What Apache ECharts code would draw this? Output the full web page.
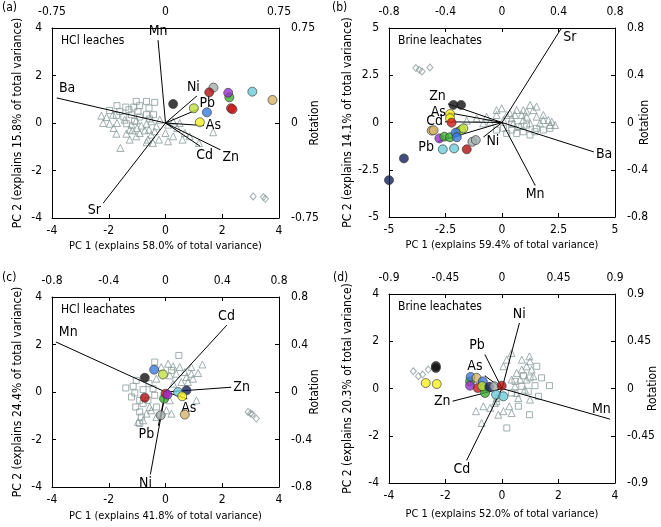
<!DOCTYPE html>
<html><head><meta charset="utf-8">
<script src="https://cdn.jsdelivr.net/npm/echarts@6/dist/echarts.min.js"></script>
<style>html,body{margin:0;padding:0;background:#fff}#c{width:661px;height:527px}</style>
</head><body><div id="c"></div>
<script>
// ---------- DATA ----------
// Panel (a) HCl leaches
const aCircles = [[0.27,0.80],[1.69,1.49],[1.54,1.29],[1.0,0.62],[1.46,0.45],[1.21,0.03],[2.25,1.08],[2.21,1.27],[2.31,0.62],[2.36,0.58],[3.06,1.32],[3.77,0.97]];
const aKinds = ['black','gray','darkred','lime','blue','yellow','green','purple','red','red','cyan','tan'];
const aTri = [[-2.26,0.31],[-2.08,0.25],[-1.85,0.35],[-1.71,0.0],[-1.44,0.14],[-1.20,-0.07],[-1.03,0.11],[-0.85,-0.11],[-0.67,-0.03],[-0.50,0.07],[-0.32,-0.14],[-0.20,0.14],[-1.73,-0.45],[-1.38,-0.45],[-1.17,-0.31],[-0.91,-0.42],[-0.73,-0.31],[-0.50,-0.49],[-0.62,-0.70],[-0.44,-0.84],[-1.59,-1.05],[-0.23,-0.70],[0.0,-0.42],[0.09,-0.77],[0.27,-0.56],[0.41,-0.21],[0.60,-0.70],[0.68,-0.42],[0.85,-0.56],[1.18,-0.84],[1.68,-0.39],[-2.20,0.0],[-1.97,-0.03],[-1.83,-0.21],[-1.26,-0.28],[-1.0,-0.21],[-0.58,-0.28],[-0.38,-0.35],[0.27,0.07],[0.50,0.0],[0.09,-0.07],[-1.03,-0.56],[-1.26,-0.70],[-0.67,-0.81]];
const aSq = [[-1.03,0.91],[-0.67,0.91],[-1.71,0.73],[-1.40,0.67],[-1.12,0.67],[-0.91,0.73],[-0.58,0.63],[-0.38,0.87],[-1.97,0.53],[-1.61,0.48],[-1.29,0.56],[-0.97,0.49],[-0.67,0.35],[-0.42,0.35],[-1.73,0.31],[-1.20,0.35],[-0.91,0.25],[-1.47,0.25],[-0.56,0.17],[-1.09,0.07],[-1.38,-0.03]];
const aDia = [[3.09,-3.09],[3.45,-3.12],[3.52,-3.19]];
const aLoadNames = ['Mn','Ba','Sr','Ni','Pb','As','Zn','Cd'];
const aLoadX = [-0.049,-0.716,-0.41,0.204,0.208,0.25,0.36,0.225];
const aLoadY = [0.65,0.197,-0.63,0.21,0.105,-0.02,-0.21,-0.18];

// Panel (b) Brine leachates
const bCircles = [[-5.0,-3.05],[-4.34,-1.90],[-2.15,0.93],[-1.81,0.93],[-2.30,0.45],[-2.30,0.22],[-2.23,-0.01],[-3.11,-0.43],[-3.03,-0.41],[-2.77,-0.84],[-2.55,-0.75],[-2.30,-0.78],[-1.93,-0.49],[-1.81,-0.40],[-1.71,-0.31],[-2.05,-0.54],[-2.0,-0.78],[-2.62,-1.42],[-2.12,-1.37],[-1.56,-1.42],[-1.31,-1.02],[-1.16,-0.93]];
const bKinds = ['navy','navy','black','black','yellow','yellow','red','tan','tan','purple','green','green','green','lime','lime','blue','blue','cyan','cyan','darkred','gray','gray'];
const bTri = [[-1.56,0.10],[-1.12,0.22],[-0.68,0.31],[-0.24,0.40],[-0.01,0.75],[0.35,0.49],[0.65,0.66],[0.87,0.40],[1.09,0.58],[1.39,0.66],[1.53,0.31],[1.83,0.40],[2.05,0.13],[2.35,-0.13],[1.24,0.93],[1.53,0.84],[0.43,0.22],[0.94,0.13],[1.24,-0.04],[1.68,-0.04],[2.12,-0.13],[0.06,0.13],[0.50,-0.04],[0.80,-0.19],[-0.53,0.04],[-0.83,-0.04],[1.09,0.31],[0.21,0.40],[0.58,0.40],[1.83,0.13],[2.20,0.04],[-0.24,0.66],[0.94,0.66]];
const bSq = [[0.06,-0.31],[0.43,-0.40],[0.72,-0.22],[0.94,-0.49],[1.24,-0.66],[1.53,-0.31],[1.83,-0.40],[0.65,-0.58],[0.21,-0.58],[-0.24,-0.40],[1.09,-0.13],[1.46,-0.49],[2.12,-0.31],[0.43,-0.08]];
const bDia = [[-3.81,2.88],[-3.66,2.79],[-3.54,2.70],[-3.19,2.91]];
const bLoadNames = ['Sr','Ba','Mn','Zn','As','Cd','Pb','Ni'];
const bLoadX = [0.416,0.647,0.234,-0.38,-0.38,-0.40,-0.45,-0.128];
const bLoadY = [0.79,-0.248,-0.53,0.157,0.083,0.006,-0.16,-0.12];

// Panel (c) HCl leachates
const cCircles = [[-0.40,0.94],[-0.09,0.74],[-0.73,0.60],[-0.73,-0.24],[-0.05,-0.28],[0.0,-0.07],[0.07,-0.11],[0.44,0.0],[0.74,0.07],[0.59,-0.18],[0.68,-0.95],[-0.17,-0.98]];
const cKinds = ['blue','lime','black','darkred','green','red','purple','cyan','navy','yellow','tan','gray'];
const cTri = [[0.09,1.19],[0.27,1.08],[0.50,1.05],[0.68,0.84],[0.91,0.77],[1.30,1.16],[1.15,0.80],[0.97,0.56],[0.74,0.63],[0.38,0.77],[0.15,0.70],[0.56,0.42],[0.79,0.42],[1.09,-0.35],[0.21,-0.91],[0.03,-0.77],[-0.32,-1.05],[-0.50,-0.77],[-0.67,-0.91],[-0.79,-1.19],[-0.97,-1.26],[0.15,-0.35],[-0.32,0.56],[-0.15,1.05],[0.91,1.05],[0.27,0.35],[-0.56,-0.63]];
const cSq = [[-0.38,1.26],[0.47,1.54],[-1.40,0.17],[-1.14,0.24],[-1.08,-0.04],[-1.2,-0.21],[-1.05,-0.63],[-0.91,-0.35],[-0.79,-0.49],[-0.91,-0.84],[-0.85,-1.05],[-0.91,-1.33],[-0.58,0.35],[-0.44,0.14],[-0.38,-0.14],[-0.32,-0.63],[-1.03,0.49],[-0.62,-0.35],[0.21,0.91],[-0.79,0.10]];
const cDia = [[2.91,-0.84],[3.0,-0.9],[3.06,-0.94],[3.20,-1.12]];
const cLoadNames = ['Mn','Cd','Zn','Ni','Pb','As'];
const cLoadX = [-0.77,0.43,0.46,-0.106,-0.05,0.15];
const cLoadY = [0.42,0.56,0.04,-0.69,-0.28,-0.056];

// Panel (d) Brine leachates
const dCircles = [[-2.34,0.95],[-2.34,0.87],[-2.70,0.23],[-2.31,0.19],[-1.13,0.30],[-1.11,0.49],[-0.90,0.45],[-0.68,0.30],[-1.13,0.12],[-0.86,0.02],[-0.63,0.02],[-0.60,-0.19],[-0.70,0.10],[-0.45,0.07],[-0.27,0.09],[-0.01,0.12],[-0.21,-0.26],[0.05,-0.33]];
const dKinds = ['black','black','yellow','yellow','green','blue','tan','blue','purple','red','green','green','lime','navy','gray','darkred','cyan','cyan'];
const dTri = [[0.97,1.36],[0.99,1.15],[0.87,0.94],[0.70,0.80],[0.52,0.66],[0.34,1.50],[0.17,1.22],[0.05,0.94],[1.05,0.80],[1.11,0.52],[0.87,0.38],[0.64,0.38],[0.34,0.38],[0.46,0.09],[0.81,-0.05],[0.99,-0.47],[0.58,-0.40],[0.26,-0.75],[0.05,-0.96],[-0.13,-1.11],[0.34,-1.04],[-0.42,-0.82],[-0.66,-0.75],[-0.92,-0.96],[-0.72,-1.46],[-0.25,-0.61],[-0.19,-0.40],[0.52,-0.19],[0.70,1.22],[-0.19,-0.54]];
const dSq = [[0.17,-1.67],[0.34,-0.19],[0.46,0.30],[0.76,0.54],[0.99,0.45],[1.23,0.94],[1.40,0.45],[1.68,0.12],[1.17,0.12],[0.93,-0.12],[0.70,0.09],[0.97,-1.11],[0.58,-0.75],[1.29,-0.33]];
const dDia = [[-3.14,0.73],[-2.96,0.52],[-2.61,0.80],[-2.81,0.59]];
const dLoadNames = ['Mn','Ni','Pb','As','Zn','Cd'];
const dLoadX = [0.855,0.138,-0.135,-0.135,-0.39,-0.28];
const dLoadY = [-0.29,0.62,0.32,0.12,-0.12,-0.68];

// ---------- STYLE ----------
const FONT = "'Liberation Sans Narrow','DejaVu Sans Condensed','Liberation Sans',sans-serif";
const palette = {black:'#111111',gray:'#a4adad',darkred:'#b01010',red:'#d01818',purple:'#9a30d0',green:'#40b030',lime:'#c0e040',blue:'#3b7bdc',yellow:'#f6f01e',cyan:'#6ccad8',tan:'#d6b468',navy:'#14205a'};
const hollow = '#8a9b9b';
const labelPlace = {
  a:{Mn:['top',[0,0]],Ba:['top',[10,0]],Sr:['left',[0,8]],Ni:['top',[-3,0]],Pb:['right',[0,-6]],As:['right',[0,0]],Zn:['right',[0,8]],Cd:['bottom',[5,0]]},
  b:{Sr:['right',[0,8]],Ba:['right',[0,3]],Mn:['bottom',[0,0]],Zn:['left',[0,-8]],As:['left',[0,0]],Cd:['left',[0,0]],Pb:['left',[-2,6]],Ni:['right',[0,5]]},
  c:{Mn:['top',[12,0]],Cd:['top',[0,0]],Zn:['right',[0,0]],Ni:['bottom',[-5,0]],Pb:['bottom',[-12,0]],As:['bottom',[2,0]]},
  d:{Mn:['top',[-8,0]],Ni:['top',[0,0]],Pb:['top',[-8,0]],As:['left',[0,-10]],Zn:['left',[0,0]],Cd:['bottom',[-5,0]]}
};

const panels = [
  {key:'a',tag:'(a)',title:'HCl leaches',grid:{left:52,top:28,width:227,height:190},pc:[-4,4,2],pcy:[-4,4,2],rot:[-0.75,0.75,0.75],
   xName:'PC 1 (explains 58.0% of total variance)',yName:'PC 2 (explains 15.8% of total variance)',xGap:23,yGap:28,rGap:30,
   circles:aCircles,kinds:aKinds,tri:aTri,sq:aSq,dia:aDia,ln:aLoadNames,lx:aLoadX,ly:aLoadY,tagPos:[2,2]},
  {key:'b',tag:'(b)',title:'Brine leachates',grid:{left:389,top:28,width:226,height:189},pc:[-5,5,2.5],pcy:[-5,5,2.5],rot:[-0.8,0.8,0.4],
   xName:'PC 1 (explains 59.4% of total variance)',yName:'PC 2 (explains 14.1% of total variance)',xGap:23,yGap:35,rGap:24,
   circles:bCircles,kinds:bKinds,tri:bTri,sq:bSq,dia:bDia,ln:bLoadNames,lx:bLoadX,ly:bLoadY,tagPos:[332,2]},
  {key:'c',tag:'(c)',title:'HCl leachates',grid:{left:52,top:297,width:227,height:190},pc:[-4,4,2],pcy:[-4,4,2],rot:[-0.8,0.8,0.4],
   xName:'PC 1 (explains 41.8% of total variance)',yName:'PC 2 (explains 24.4% of total variance)',xGap:24,yGap:28,rGap:30,
   circles:cCircles,kinds:cKinds,tri:cTri,sq:cSq,dia:cDia,ln:cLoadNames,lx:cLoadX,ly:cLoadY,tagPos:[2,272]},
  {key:'d',tag:'(d)',title:'Brine leachates',grid:{left:389,top:294,width:226,height:189},pc:[-4,4,2],pcy:[-4,4,2],rot:[-0.9,0.9,0.45],
   xName:'PC 1 (explains 52.0% of total variance)',yName:'PC 2 (explains 20.3% of total variance)',xGap:26,yGap:35,rGap:32,
   circles:dCircles,kinds:dKinds,tri:dTri,sq:dSq,dia:dDia,ln:dLoadNames,lx:dLoadX,ly:dLoadY,tagPos:[333,272]}
];

const txt = {color:'#000',fontFamily:FONT,fontSize:12};
const axisCommon = {nameMoveOverlap:false,axisLine:{show:true,onZero:false,lineStyle:{color:'#000',width:1}},axisTick:{show:true,inside:true,length:4,lineStyle:{color:'#000'}},splitLine:{show:false},axisLabel:Object.assign({},txt),nameTextStyle:Object.assign({},txt)};

const grid=[],xAxis=[],yAxis=[],series=[],graphic=[];
panels.forEach((p,i)=>{
  grid.push(Object.assign({},p.grid));
  xAxis.push(Object.assign({},axisCommon,{gridIndex:i,type:'value',position:'bottom',min:p.pc[0],max:p.pc[1],interval:p.pc[2],name:p.xName,nameLocation:'middle',nameGap:p.xGap,nameTextStyle:Object.assign({},txt,{fontSize:11}),axisLabel:Object.assign({},txt,{margin:7})}));
  xAxis.push(Object.assign({},axisCommon,{gridIndex:i,type:'value',position:'top',min:p.rot[0],max:p.rot[1],interval:p.rot[2],axisLabel:Object.assign({},txt,{margin:10})}));
  yAxis.push(Object.assign({},axisCommon,{gridIndex:i,type:'value',position:'left',min:p.pcy[0],max:p.pcy[1],interval:p.pcy[2],name:p.yName,nameLocation:'middle',nameRotate:90,nameGap:p.yGap,axisLabel:Object.assign({},txt,{margin:10})}));
  yAxis.push(Object.assign({},axisCommon,{gridIndex:i,type:'value',position:'right',min:p.rot[0],max:p.rot[1],interval:p.rot[2],name:'Rotation',nameLocation:'middle',nameRotate:90,nameGap:p.rGap,axisLabel:Object.assign({},txt,{margin:12})}));
  const hs = (data,sym,size)=>({type:'scatter',xAxisIndex:2*i,yAxisIndex:2*i,data:data,symbol:sym,symbolSize:size,silent:true,
     itemStyle:{color:'rgba(0,0,0,0)',borderColor:hollow,borderWidth:1},z:2});
  series.push(hs(p.tri,'triangle',7));
  series.push(hs(p.sq,'rect',6));
  series.push(hs(p.dia,'diamond',[6,7]));
  p.ln.forEach((nm,k)=>{
    const pl = labelPlace[p.key][nm];
    series.push({type:'line',xAxisIndex:2*i+1,yAxisIndex:2*i+1,silent:true,z:3,
      lineStyle:{color:'#000',width:1},symbol:'circle',symbolSize:1,itemStyle:{color:'#000'},
      data:[{value:[0,0],label:{show:false}},{value:[p.lx[k],p.ly[k]],label:{show:true,formatter:nm,position:pl[0],offset:pl[1],distance:2,color:'#000',fontFamily:FONT,fontSize:14}}]});
  });
  series.push({type:'scatter',xAxisIndex:2*i,yAxisIndex:2*i,silent:true,z:4,symbol:'circle',symbolSize:9,
    data:p.circles.map((c,k)=>({value:c,itemStyle:{color:palette[p.kinds[k]],borderColor:'#333',borderWidth:0.8}}))});
  graphic.push({type:'text',left:p.tagPos[0],top:p.tagPos[1],style:{text:p.tag,fill:'#000',font:'12px '+FONT}});
  graphic.push({type:'text',left:p.grid.left+9,top:p.grid.top+7,style:{text:p.title,fill:'#000',font:'12px '+FONT}});
});

const chart = echarts.init(document.getElementById('c'),null,{renderer:'canvas'});
chart.setOption({animation:false,grid:grid,xAxis:xAxis,yAxis:yAxis,series:series,graphic:graphic});
</script></body></html>
